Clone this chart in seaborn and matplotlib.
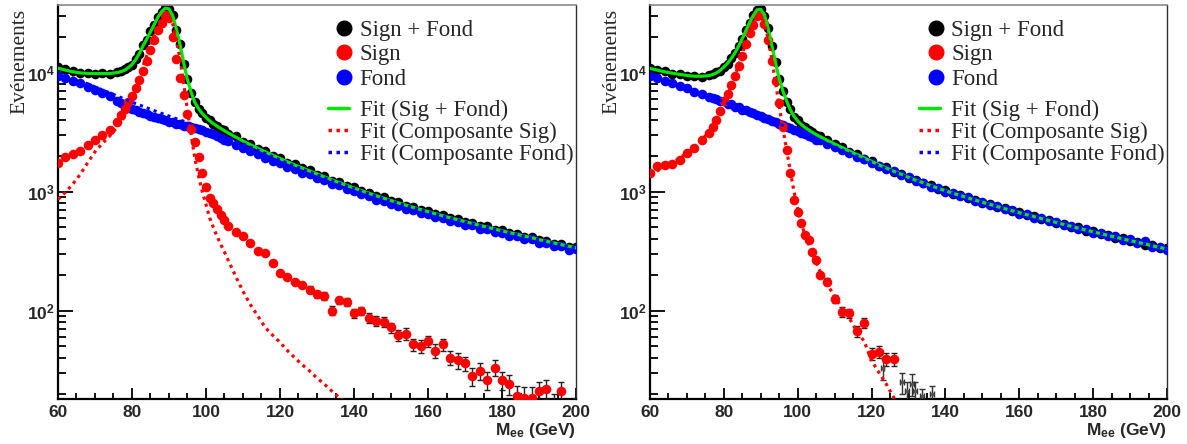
import numpy as np
import pandas as pd
import matplotlib
matplotlib.use('Agg')
import matplotlib.pyplot as plt
import seaborn as sns
from matplotlib.lines import Line2D
from matplotlib.ticker import MultipleLocator, LogLocator, NullFormatter, FixedLocator, FixedFormatter

# mass bins (GeV)
mass = [60, 62, 64, 66, 68, 70, 72, 74, 76,
        77, 78, 79, 80, 81, 82, 83, 84, 85, 86, 87, 88, 89, 90, 91, 92, 93, 94, 95, 96,
        97, 98, 99, 100, 101, 102, 103, 104, 105, 106,
        108, 110, 112, 114, 116, 118, 120, 122, 124, 126, 128, 130, 132, 134, 136, 138,
        140, 142, 144, 146, 148, 150, 152, 154, 156, 158, 160, 162, 164, 166, 168, 170,
        172, 174, 176, 178, 180, 182, 184, 186, 188, 190, 192, 194, 196, 198, 200]

# ---- left panel ----
left_sb = [11200, 10700, 10300, 9900, 10000, 9800, 9950, 9800, 10150,
           10400, 10700, 11200, 11700, 13100, 14400, 17200, 19000, 22500, 25200, 29800, 32500, 35300, 34200, 30800,
           23000, 17400, 11900, 8850, 6750, 5700, 4930, 4600, 4180, 3990, 3700, 3600, 3370, 3300, 3090,
           2920, 2640, 2510, 2290, 2190, 2010, 1930, 1760, 1700, 1570, 1520, 1390, 1350, 1240, 1210, 1120,
           1090, 1010, 985, 915, 895, 835, 815, 760, 745, 700, 690, 645, 635, 598, 590, 552,
           548, 512, 510, 478, 474, 446, 444, 417, 416, 390, 388, 365, 364, 342, 340]
left_s = [1750, 1950, 2080, 2200, 2450, 2700, 3000, 3300, 3900,
          4400, 5000, 5700, 6400, 7500, 8800, 10300, 12500, 15500, 19000, 23000, 26500, 30700, 29000, 20000,
          13000, 9000, 6500, 4500, 3400, 2600, 1970, 1450, 1100, 880, 810, 720, 640, 580, 510,
          455, 420, 370, 320, 305, 250, 205, 190, 175, 165, 150, 137, 133, 100, 122, 118,
          95, 100, 87, 82, 80, 72, 62, 64, 52, 50, 55, 46, 52, 40, 38, 36,
          28, 31, 26, 33, 26, 24, 19, 18.5, 18.5, 21, 22, 16, 21, 12, 15]
left_b = [9400, 9050, 8600, 8200, 7650, 7200, 6800, 6350, 5850,
          5600, 5400, 5200, 5000, 4850, 4700, 4600, 4500, 4380, 4270, 4180, 4100, 3990, 3900, 3830,
          3750, 3680, 3600, 3540, 3480, 3420, 3350, 3280, 3200, 3130, 3050, 2950, 2820, 2740, 2650,
          2480, 2350, 2200, 2060, 1940, 1820, 1730, 1600, 1560, 1450, 1400, 1300, 1250, 1160, 1130, 1050,
          1020, 950, 925, 860, 840, 790, 765, 720, 705, 660, 650, 610, 600, 565, 560, 525,
          520, 490, 485, 455, 452, 425, 424, 398, 398, 372, 372, 350, 348, 325, 328]
left_fit = [10960, 10560, 10230, 10000, 9900, 9890, 9870, 9890, 10070,
            10250, 10530, 11060, 11800, 12940, 14590, 16940, 19300, 22160, 25520, 29390, 32760, 35130, 34510, 30390,
            23270, 17160, 12050, 8740, 6840, 5630, 4990, 4540, 4230, 3945, 3740, 3560, 3405, 3260, 3125,
            2885, 2670, 2487, 2320, 2167, 2032, 1904, 1786, 1680, 1585, 1496, 1412, 1334, 1261, 1194, 1132,
            1075, 1022, 972, 926, 883, 843, 805, 771, 738, 708, 679, 653, 627, 604, 582, 560,
            540, 521, 503, 485, 469, 453, 438, 424, 410, 396, 383, 371, 359, 348, 337]
left_fit_s = [860, 990, 1160, 1400, 1750, 2170, 2550, 2950, 3500,
              3850, 4300, 5000, 5900, 7200, 9000, 11500, 14000, 17000, 20500, 24500, 28000, 30500, 30000, 26000,
              19000, 13000, 8000, 4800, 3000, 1900, 1350, 1000, 780, 600, 500, 420, 360, 310, 265,
              195, 145, 112, 90, 72, 62, 54, 46, 40, 35, 31, 27, 24, 21, 18.5, 16.5,
              15, 13.5, 12, 11, 10, 9, 8.3, 7.6, 7, 6.5, 6, 5.5, 5.1, 4.8, 4.5, 4.2,
              3.9, 3.7, 3.5, 3.3, 3.1, 2.9, 2.8, 2.6, 2.5, 2.4, 2.3, 2.2, 2.1, 2, 1.9]
left_fit_b = [10100, 9570, 9050, 8550, 8080, 7620, 7180, 6780, 6380,
              6200, 6020, 5850, 5680, 5520, 5370, 5220, 5080, 4940, 4810, 4680, 4560, 4440, 4330, 4220,
              4110, 4010, 3910, 3810, 3720, 3620, 3530, 3440, 3360, 3270, 3180, 3090, 3010, 2920, 2840,
              2680, 2520, 2375, 2230, 2095, 1970, 1850, 1740, 1640, 1550, 1465, 1385, 1310, 1240, 1175, 1115,
              1060, 1008, 960, 915, 873, 834, 797, 763, 731, 701, 673, 647, 622, 599, 577, 556,
              536, 517, 499, 482, 466, 450, 435, 421, 407, 394, 381, 369, 357, 346, 335]
# error bars on the signal tail (128 - 200 GeV)
left_tail_err = [10, 10, 10, 9, 9, 9, 8, 8, 8, 8, 8, 7, 7, 7, 6, 6, 6, 6, 6, 5.5,
                 5.5, 5, 5, 5, 4.5, 5, 4.5, 4.5, 4, 4, 4, 4, 4, 4, 4, 3.5, 3.5]

# ---- right panel ----
right_sb = [11000, 10600, 10300, 9850, 9800, 9450, 9450, 9300, 9600,
            9800, 10100, 10400, 11300, 12000, 13400, 14600, 17000, 19300, 23100, 26500, 30900, 33700, 34600, 30400,
            23800, 16800, 12300, 8850, 7100, 5720, 4950, 4280, 3980, 3640, 3500, 3290, 3190, 3010, 2940,
            2740, 2500, 2380, 2170, 2080, 1900, 1820, 1660, 1600, 1470, 1420, 1310, 1265, 1175, 1140, 1055,
            1030, 960, 945, 880, 860, 805, 795, 740, 732, 684, 676, 632, 626, 586, 580, 544,
            538, 505, 500, 470, 466, 438, 436, 409, 407, 383, 381, 358, 357, 336, 334]
right_s = [1450, 1650, 1680, 1720, 1850, 2100, 2350, 2700, 3150,
           3500, 4000, 4800, 5800, 6700, 7900, 9400, 11500, 14000, 17500, 21500, 25500, 30000, 30500, 26000,
           19000, 12500, 8500, 5600, 3500, 2260, 1440, 860, 680, 550, 435, 395, 310, 265, 200,
           175, 125, 98, 95, 67, 79, 43, 45, 39, 39] + [np.nan] * 37
right_b = [9450, 9100, 8550, 8250, 7750, 7450, 6950, 6700, 6250,
           6100, 6050, 5800, 5750, 5500, 5450, 5200, 5150, 4900, 4850, 4650, 4600, 4400, 4330, 4150,
           4080, 3920, 3860, 3700, 3640, 3490, 3440, 3290, 3240, 3100, 3060, 2920, 2880, 2750, 2720,
           2520, 2400, 2230, 2120, 1970, 1880, 1740, 1660, 1540, 1480, 1370, 1320, 1225, 1190, 1105, 1075,
           1000, 980, 915, 895, 840, 822, 772, 758, 710, 698, 655, 648, 605, 600, 562, 556,
           522, 518, 485, 482, 452, 450, 420, 421, 394, 400, 368, 382, 345, 345, 322]
right_fit = [10900, 10550, 10220, 9960, 9720, 9520, 9380, 9370, 9500,
             9700, 10000, 10500, 11200, 12050, 13200, 14750, 16800, 19460, 22820, 26690, 30560, 33930, 34300, 30680,
             23560, 16950, 12140, 8930, 7020, 5770, 4900, 4320, 3940, 3670, 3470, 3310, 3160, 3035, 2915,
             2705, 2522, 2355, 2196, 2057, 1925, 1798, 1680, 1584, 1488, 1404, 1321, 1248, 1187, 1126, 1069,
             1019, 972, 930, 889, 851, 816, 783, 751, 721, 693, 666, 641, 617, 594, 572, 551,
             531, 512, 493, 476, 460, 444, 429, 415, 401, 388, 375, 363, 351, 340, 329]
right_fit_s = [1400, 1500, 1620, 1760, 1920, 2120, 2380, 2720, 3200,
               3550, 4000, 4650, 5500, 6500, 7800, 9500, 11700, 14500, 18000, 22000, 26000, 29500, 30000, 26500,
               19500, 13000, 8300, 5200, 3400, 2250, 1480, 1000, 720, 540, 430, 360, 300, 255, 215,
               165, 132, 105, 86, 67, 55, 38, 30, 24, 18.5, 14, 11, 8.5, 6.8, 5.5, 4.5,
               3.8, 3.2, 2.7, 2.3, 2, 1.8, 1.6, 1.4, 1.25, 1.1, 1, 0.9, 0.8, 0.72, 0.65, 0.6,
               0.55, 0.5, 0.46, 0.42, 0.39, 0.36, 0.33, 0.31, 0.29, 0.27, 0.25, 0.23, 0.22, 0.21, 0.2]
right_fit_b = [9500, 9050, 8600, 8200, 7800, 7400, 7000, 6650, 6300,
               6150, 6000, 5850, 5700, 5550, 5400, 5250, 5100, 4960, 4820, 4690, 4560, 4430, 4300, 4180,
               4060, 3950, 3840, 3730, 3620, 3520, 3420, 3320, 3220, 3130, 3040, 2950, 2860, 2780, 2700,
               2540, 2390, 2250, 2110, 1990, 1870, 1760, 1650, 1560, 1470, 1390, 1310, 1240, 1180, 1120, 1065,
               1015, 970, 928, 888, 850, 815, 782, 750, 720, 692, 665, 640, 616, 593, 571, 550,
               530, 511, 493, 476, 460, 444, 429, 415, 401, 388, 375, 363, 351, 340, 329]
# error bars on the signal tail (108 - 126 GeV)
right_tail_err = [12, 10, 9, 9, 7, 8, 5, 5, 5, 5]
# residual points drawn with error bars only
right_rest_mass = [123, 128.3, 129.6, 131, 131.8, 133.7, 136.4]
right_rest_val = [33, 25, 21, 24, 21, 19, 20]
right_rest_err = [7, 5, 4, 5, 4, 3, 3]

GREEN = '#00e600'
RED = '#ff0000'
BLUE = '#0000ff'

sns.set_style('ticks')
plt.rcParams['font.family'] = ['Liberation Sans', 'DejaVu Sans']
plt.rcParams['mathtext.fontset'] = 'custom'
plt.rcParams['mathtext.rm'] = 'Liberation Sans'
plt.rcParams['mathtext.bf'] = 'Liberation Sans:bold'
plt.rcParams['mathtext.it'] = 'Liberation Sans:italic'
plt.rcParams['mathtext.default'] = 'bf'

serif = {'family': 'Liberation Serif', 'size': 16.5}


def panel(ax, sb, s, b, fit, fit_s, fit_b):
    df = pd.DataFrame({'mass': mass, 'sb': sb, 's': s, 'b': b,
                       'fit': fit, 'fit_s': fit_s, 'fit_b': fit_b})
    ax.set_yscale('log')
    sns.scatterplot(data=df, x='mass', y='sb', color='black', s=48, linewidth=0, ax=ax, zorder=2)
    sns.scatterplot(data=df, x='mass', y='b', color=BLUE, s=48, linewidth=0, ax=ax, zorder=3)
    sns.scatterplot(data=df, x='mass', y='s', color=RED, s=48, linewidth=0, ax=ax, zorder=4)
    sns.lineplot(data=df, x='mass', y='fit', color=GREEN, lw=2.3, ax=ax, zorder=5)
    sns.lineplot(data=df, x='mass', y='fit_b', color=BLUE, lw=2.3, ls=(0, (1, 1.3)), ax=ax, zorder=6)
    sns.lineplot(data=df, x='mass', y='fit_s', color=RED, lw=2.3, ls=(0, (1, 1.3)), ax=ax, zorder=6)

    ax.set_xlim(60, 200)
    ax.set_ylim(18, 37300)
    ax.xaxis.set_major_locator(MultipleLocator(20))
    ax.xaxis.set_minor_locator(MultipleLocator(5))
    ax.yaxis.set_major_locator(FixedLocator([100, 1000, 10000]))
    ax.yaxis.set_major_formatter(FixedFormatter([r'$10^{2}$', r'$10^{3}$', r'$10^{4}$']))
    ax.yaxis.set_minor_locator(LogLocator(base=10, subs=np.arange(2, 10)))
    ax.yaxis.set_minor_formatter(NullFormatter())
    ax.tick_params(which='both', direction='in', top=False, right=False, width=1.3, color='black')
    ax.tick_params(axis='x', which='major', length=8, pad=4, labelsize=12.5)
    ax.tick_params(axis='x', which='minor', length=4.5)
    ax.tick_params(axis='y', which='major', length=11, pad=2, labelsize=12.5)
    ax.tick_params(axis='y', which='minor', length=5.5)
    for lbl in ax.get_xticklabels():
        lbl.set_fontweight('bold')
    for side in ['left', 'bottom']:
        ax.spines[side].set_linewidth(1.6)
        ax.spines[side].set_color('black')
    ax.spines['top'].set_color('#8a8a8a')
    ax.spines['top'].set_linewidth(1.2)
    ax.spines['right'].set_color('#303030')
    ax.spines['right'].set_linewidth(1.0)

    ax.set_xlabel(r'$M_{ee}$ (GeV)', loc='right', fontsize=12.5, fontweight='bold', labelpad=1)
    ax.set_ylabel('Evénements', loc='top', fontdict={'family': 'Liberation Serif', 'size': 15.5})
    ax.yaxis.set_label_coords(-0.056, 0.99)

    h1 = [Line2D([], [], marker='o', ls='none', color=c, markersize=10.5) for c in ['black', RED, BLUE]]
    leg1 = ax.legend(h1, ['Sign + Fond', 'Sign', 'Fond'], loc='upper left',
                     bbox_to_anchor=(0.533, 0.962), frameon=False, prop=serif,
                     handlelength=0.9, handletextpad=0.22, labelspacing=0.15,
                     borderpad=0, borderaxespad=0)
    ax.add_artist(leg1)
    h2 = [Line2D([], [], color=GREEN, lw=2.5),
          Line2D([], [], color=RED, lw=2.5, ls=(0, (1, 1.3))),
          Line2D([], [], color=BLUE, lw=2.5, ls=(0, (1, 1.3)))]
    ax.legend(h2, ['Fit (Sig + Fond)', 'Fit (Composante Sig)', 'Fit (Composante Fond)'],
              loc='upper left', bbox_to_anchor=(0.521, 0.760), frameon=False, prop=serif,
              handlelength=0.9, handletextpad=0.48, labelspacing=0.04,
              borderpad=0, borderaxespad=0)


fig = plt.figure(figsize=(11.87, 4.44), dpi=100)
ax1 = fig.add_axes([0.04886, 0.10135, 0.43640, 0.88739])
ax2 = fig.add_axes([0.54760, 0.10135, 0.43555, 0.88739])

panel(ax1, left_sb, left_s, left_b, left_fit, left_fit_s, left_fit_b)
ax1.errorbar(mass[-37:], left_s[-37:], yerr=left_tail_err, fmt='none', ecolor='#222222',
             elinewidth=1, capsize=2, capthick=1, zorder=3.5)

panel(ax2, right_sb, right_s, right_b, right_fit, right_fit_s, right_fit_b)
ax2.errorbar(mass[39:49], right_s[39:49], yerr=right_tail_err, fmt='none', ecolor='#222222',
             elinewidth=1, capsize=2, capthick=1, zorder=3.5)
ax2.errorbar(right_rest_mass, right_rest_val, yerr=right_rest_err, xerr=0.5, fmt='s', color='#555555',
             markersize=2, ecolor='#333333', elinewidth=1, capsize=2, capthick=1, zorder=3.5)

fig.savefig('out.png', dpi=100)
